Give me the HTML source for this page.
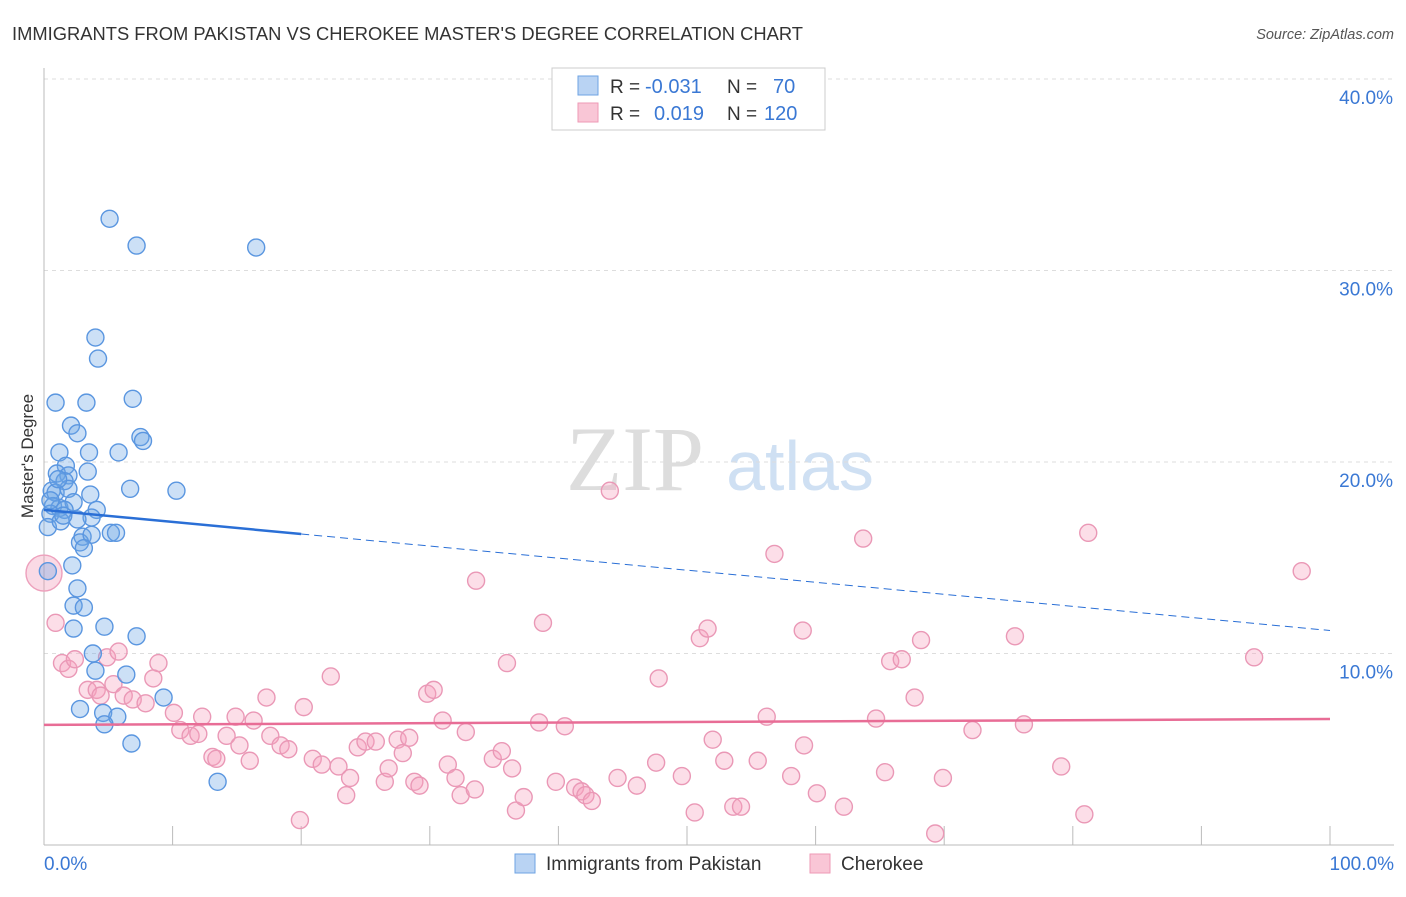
<!DOCTYPE html>
<html><head><meta charset="utf-8"><style>
body{margin:0;background:#fff;font-family:"Liberation Sans",sans-serif}
svg text{font-family:"Liberation Sans",sans-serif}
</style></head><body>
<svg id="chart" width="1406" height="892" xmlns="http://www.w3.org/2000/svg">
<text x="12" y="40" font-size="18" fill="#333" textLength="791" lengthAdjust="spacingAndGlyphs">IMMIGRANTS FROM PAKISTAN VS CHEROKEE MASTER'S DEGREE CORRELATION CHART</text>
<text x="1394" y="39" font-size="14.5" fill="#555" font-style="italic" text-anchor="end">Source: ZipAtlas.com</text>
<text x="33" y="456" font-size="17" fill="#333" text-anchor="middle" transform="rotate(-90 33 456)">Master's Degree</text>
<g><text x="635" y="490" font-size="92" fill="#ddd" text-anchor="middle" style="font-family:'Liberation Serif',serif">ZIP</text><text x="800" y="490" font-size="70" fill="#cfe0f3" text-anchor="middle">atlas</text></g>
<g id="grid"></g><g id="axes"></g><g id="pink"></g><g id="blue"></g><g id="trends"></g>
<g>
<rect x="552" y="68" width="273" height="62" fill="#fff" stroke="#ccc"/>
<rect x="578" y="76" width="20" height="19" fill="#b9d3f3" stroke="#6ea3e3"/>
<rect x="578" y="103" width="20" height="19" fill="#f9c6d6" stroke="#ee9ab6"/>
<text x="610" y="93" font-size="19" fill="#333">R =</text>
<text x="645" y="93" font-size="20" fill="#3a78d4">-0.031</text>
<text x="727" y="93" font-size="19" fill="#333">N =</text>
<text x="773" y="93" font-size="20" fill="#3a78d4">70</text>
<text x="610" y="120" font-size="19" fill="#333">R =</text>
<text x="654" y="120" font-size="20" fill="#3a78d4">0.019</text>
<text x="727" y="120" font-size="19" fill="#333">N =</text>
<text x="764" y="120" font-size="20" fill="#3a78d4">120</text>
</g>
<g>
<rect x="515" y="854" width="20" height="19" fill="#b9d3f3" stroke="#6ea3e3"/>
<text x="546" y="870" font-size="19" fill="#333">Immigrants from Pakistan</text>
<rect x="810" y="854" width="20" height="19" fill="#f9c6d6" stroke="#ee9ab6"/>
<text x="841" y="870" font-size="19" fill="#333">Cherokee</text>
</g>
</svg>
<script>
const yTicks=[10,20,30,40];
const yTickLabels=["10.0%","20.0%","30.0%","40.0%"];
const xTickLabels=["0.0%","100.0%"];
const blueX=[5.1,7.2,16.5,4.0,4.2,0.9,3.3,6.9,2.1,2.6,7.5,7.7,1.2,3.5,5.8,1.7,3.4,1.0,1.9,1.6,0.6,0.9,1.9,3.6,6.7,10.3,0.7,1.2,2.3,1.6,4.1,3.7,0.5,0.3,1.3,2.6,3.0,2.8,3.7,5.2,5.6,2.2,0.3,2.6,2.3,3.1,2.3,4.7,7.2,3.8,4.0,6.4,9.3,2.8,4.6,5.7,4.7,6.8,13.5,0.5,1.1,3.1,1.5];
const blueY=[32.7,31.3,31.2,26.5,25.4,23.1,23.1,23.3,21.9,21.5,21.3,21.1,20.5,20.5,20.5,19.8,19.5,19.4,19.3,19.0,18.5,18.4,18.6,18.3,18.6,18.5,17.7,17.6,17.9,17.5,17.5,17.1,17.3,16.6,16.9,17.0,16.1,15.8,16.2,16.3,16.3,14.6,14.3,13.4,12.5,12.4,11.3,11.4,10.9,10.0,9.1,8.9,7.7,7.1,6.9,6.7,6.3,5.3,3.3,18.0,19.1,15.5,17.2];
const pinkX=[0.9,1.4,1.9,2.4,4.9,5.8,8.9,3.4,4.1,4.4,5.4,6.2,6.9,7.9,8.5,10.1,10.6,11.4,12.3,12.0,13.1,13.4,14.2,14.9,15.2,16.0,16.3,17.3,17.6,18.4,19.0,20.2,19.9,20.9,21.6,22.3,22.9,23.5,23.8,24.4,25.0,25.8,26.5,26.8,27.5,27.9,28.4,28.8,29.2,29.8,30.3,31.0,31.4,32.0,32.4,32.8,33.5,33.6,34.9,35.6,36.0,36.4,36.7,37.3,38.5,38.8,39.8,40.5,41.3,41.8,42.1,42.6,44.0,44.6,46.1,47.6,47.8,49.6,50.6,51.0,51.6,52.0,52.9,53.6,54.2,55.5,56.2,56.8,58.1,59.0,59.1,60.1,62.2,63.7,64.7,65.4,65.8,66.7,67.7,68.2,69.3,69.9,72.2,75.5,76.2,79.1,80.9,81.2,94.1,97.8];
const pinkY=[11.6,9.5,9.2,9.7,9.8,10.1,9.5,8.1,8.1,7.8,8.4,7.8,7.6,7.4,8.7,6.9,6.0,5.7,6.7,5.8,4.6,4.5,5.7,6.7,5.2,4.4,6.5,7.7,5.7,5.2,5.0,7.2,1.3,4.5,4.2,8.8,4.1,2.6,3.5,5.1,5.4,5.4,3.3,4.0,5.5,4.8,5.6,3.3,3.1,7.9,8.1,6.5,4.2,3.5,2.6,5.9,2.9,13.8,4.5,4.9,9.5,4.0,1.8,2.5,6.4,11.6,3.3,6.2,3.0,2.8,2.6,2.3,18.5,3.5,3.1,4.3,8.7,3.6,1.7,10.8,11.3,5.5,4.4,2.0,2.0,4.4,6.7,15.2,3.6,11.2,5.2,2.7,2.0,16.0,6.6,3.8,9.6,9.7,7.7,10.7,0.6,3.5,6.0,10.9,6.3,4.1,1.6,16.3,9.8,14.3];
const bigPink=[0,14.2];
const blueTrend=[17.5,11.2];
const pinkTrend=[6.27,6.58];
const NS="http://www.w3.org/2000/svg";
const X=v=>44+v*12.86, Y=v=>845-v*19.15;
function mk(tag,attrs,parent){const e=document.createElementNS(NS,tag);for(const k in attrs)e.setAttribute(k,attrs[k]);document.getElementById(parent).appendChild(e);return e;}
yTicks.forEach((t,i)=>{
 const l=mk('line',{x1:44,x2:1394,y1:Y(t),y2:Y(t),stroke:'#ddd','stroke-dasharray':'4,4'},'grid');
 
 
 const tx=mk('text',{x:1393,y:Y(t)+25,'font-size':19,fill:'#3a78d4','text-anchor':'end'},'grid');
 tx.textContent=yTickLabels[i];
 
 
});
const ax=mk('line',{x1:44,x2:44,y1:68,y2:845,stroke:'#bbb'},'axes');


const bx=mk('line',{x1:44,x2:1394,y1:845,y2:845,stroke:'#bbb'},'axes');


for(let i=0;i<=10;i++){
 const t=mk('line',{x1:X(i*10),x2:X(i*10),y1:826,y2:845,stroke:'#bbb'},'axes');
 
 
}
const xl0=mk('text',{x:44,y:870,'font-size':19,fill:'#3a78d4'},'axes');xl0.textContent=xTickLabels[0];


const xl1=mk('text',{x:1394,y:870,'font-size':19,fill:'#3a78d4','text-anchor':'end'},'axes');xl1.textContent=xTickLabels[1];


const bp=mk('circle',{cx:X(bigPink[0]),cy:Y(bigPink[1]),r:18,fill:'rgba(240,150,180,0.35)',stroke:'#eda0bc','stroke-width':1.4},'pink');


pinkX.forEach((x,i)=>{
 const c=mk('circle',{cx:X(x),cy:Y(pinkY[i]),r:8.5,fill:'rgba(245,160,190,0.35)',stroke:'#ea98b6','stroke-width':1.4},'pink');
 
 
});
blueX.forEach((x,i)=>{
 const c=mk('circle',{cx:X(x),cy:Y(blueY[i]),r:8.5,fill:'rgba(110,165,230,0.35)',stroke:'#5a96e0','stroke-width':1.4},'blue');
 
 
});
const bY=x=>blueTrend[0]+(blueTrend[1]-blueTrend[0])*x/100;
const t1=mk('line',{x1:X(0),y1:Y(bY(0)),x2:X(20),y2:Y(bY(20)),stroke:'#2a6fd6','stroke-width':2.5},'trends');


const t2=mk('line',{x1:X(20),y1:Y(bY(20)),x2:X(100),y2:Y(bY(100)),stroke:'#2a6fd6','stroke-width':1,'stroke-dasharray':'8,5'},'trends');


const t3=mk('line',{x1:X(0),y1:Y(pinkTrend[0]),x2:X(100),y2:Y(pinkTrend[1]),stroke:'#e86d96','stroke-width':2.5},'trends');


</script>
</body></html>
